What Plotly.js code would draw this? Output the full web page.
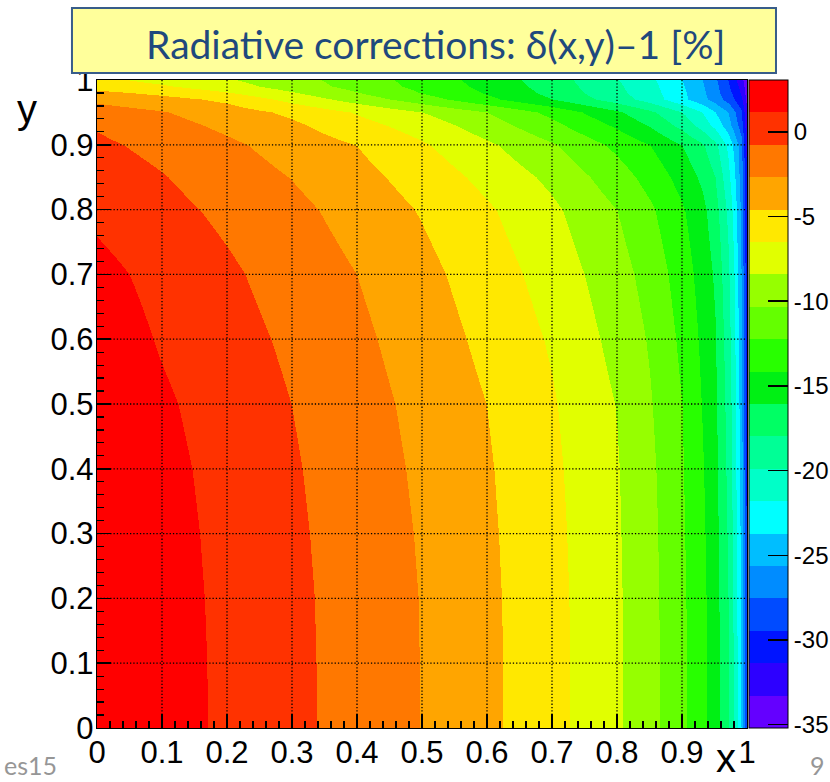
<!DOCTYPE html>
<html>
<head>
<meta charset="utf-8">
<script src="https://cdn.plot.ly/plotly-3.0.1.min.js"></script>
<style>html,body{margin:0;padding:0;background:#fff;}#chart{width:830px;height:782px;}</style>
</head>
<body>
<div id="chart"></div>
<script>
// grid of x and y sample positions
const xVals = [0, 0.1, 0.2, 0.3, 0.4, 0.5, 0.6, 0.7, 0.8, 0.85, 0.9, 0.93, 0.95, 0.97, 0.98, 0.99, 1.0];
const yVals = [0, 0.1, 0.2, 0.3, 0.4, 0.5, 0.6, 0.7, 0.8, 0.85, 0.9, 0.93, 0.95, 0.97, 0.98, 0.99, 1.0];

// delta(x,y)-1 in %, one row per y value (estimated from the colour bands)
const z_y000 = [3.06, 1.93, 0.81, -0.33, -1.51, -2.72, -4.18, -5.89, -8.14, -9.68, -11.84, -13.60, -15.16, -17.81, -20.17, -23.72, -30.0];
const z_y010 = [3.05, 1.92, 0.80, -0.33, -1.51, -2.73, -4.18, -5.89, -8.15, -9.69, -11.85, -13.62, -15.18, -17.83, -20.2, -23.8, -30.1];
const z_y020 = [2.98, 1.87, 0.76, -0.36, -1.54, -2.75, -4.21, -5.92, -8.17, -9.74, -11.90, -13.66, -15.25, -17.98, -20.4, -23.9, -30.2];
const z_y030 = [2.88, 1.79, 0.68, -0.45, -1.62, -2.84, -4.29, -6.00, -8.23, -9.80, -12.00, -13.79, -15.37, -18.2, -20.6, -24.2, -30.4];
const z_y040 = [2.74, 1.66, 0.55, -0.58, -1.75, -2.99, -4.41, -6.13, -8.30, -9.93, -12.10, -13.97, -15.51, -18.46, -20.85, -24.5, -30.6];
const z_y050 = [2.55, 1.42, 0.32, -0.78, -1.94, -3.20, -4.61, -6.33, -8.49, -10.19, -12.24, -14.23, -15.70, -18.70, -21.09, -24.8, -30.8];
const z_y060 = [2.25, 0.97, -0.05, -1.11, -2.27, -3.59, -5.06, -6.72, -9.01, -10.53, -12.66, -14.51, -15.93, -19.04, -21.33, -25.1, -31.0];
const z_y070 = [1.70, 0.58, -0.46, -1.57, -2.69, -4.05, -5.54, -7.30, -9.57, -11.05, -13.17, -14.92, -16.34, -19.51, -21.81, -25.6, -31.3];
const z_y080 = [0.75, -0.20, -1.17, -2.19, -3.38, -4.74, -6.25, -8.05, -10.33, -11.93, -13.94, -15.52, -17.20, -20.32, -22.53, -26.0, -31.6];
const z_y085 = [0.25, -0.67, -1.70, -2.74, -3.97, -5.39, -7.03, -8.87, -11.36, -12.94, -14.87, -16.45, -17.98, -21.23, -23.30, -26.5, -32.0];
const z_y090 = [-0.40, -1.29, -2.32, -3.44, -4.61, -6.27, -8.06, -10.12, -12.69, -14.16, -16.07, -17.71, -19.42, -22.19, -24.2, -26.7, -32.5];
const z_y093 = [-0.95, -2.00, -3.08, -4.24, -5.81, -7.37, -9.42, -11.73, -14.50, -16.28, -18.62, -20.66, -22.37, -24.81, -26.49, -28.5, -33.0];
const z_y095 = [-1.80, -2.56, -3.68, -4.99, -6.68, -8.42, -10.33, -12.79, -15.75, -17.60, -19.90, -21.81, -23.72, -25.64, -27.23, -29.1, -33.5];
const z_y097 = [-3.10, -3.93, -5.02, -7.14, -9.27, -11.39, -13.68, -16.07, -18.94, -20.75, -23.18, -25.0, -26.47, -28.33, -29.46, -31.0, -34.0];
const z_y098 = [-4.0, -5.0, -6.3, -8.2, -10.2, -12.3, -14.3, -16.6, -19.4, -21.0, -23.3, -25.2, -26.8, -28.8, -29.9, -31.6, -34.3];
const z_y099 = [-5.5, -6.3, -7.6, -9.3, -11.0, -12.8, -14.7, -16.9, -19.6, -21.2, -23.5, -25.4, -27.0, -29.2, -30.4, -32.0, -34.6];
const z_y100 = [-6.0, -7.0, -8.2, -9.6, -11.2, -13.0, -14.9, -17.1, -19.8, -21.4, -23.7, -25.6, -27.2, -29.5, -30.8, -32.5, -35.0];

// colour scale range and band colours (bottom band first)
const zBottom = -35.2;
const zTop = 3.06;
const bandColors = [
  'rgb(100,0,255)', 'rgb(45,0,255)', 'rgb(0,20,255)', 'rgb(0,75,255)', 'rgb(0,140,255)',
  'rgb(0,190,255)', 'rgb(0,255,255)', 'rgb(0,255,200)', 'rgb(0,255,150)', 'rgb(0,255,100)',
  'rgb(0,240,20)', 'rgb(40,255,0)', 'rgb(100,255,0)', 'rgb(150,255,0)', 'rgb(225,255,0)',
  'rgb(255,232,0)', 'rgb(255,165,0)', 'rgb(255,120,0)', 'rgb(255,50,0)', 'rgb(255,0,0)'
];

const xTickVals = [0, 0.1, 0.2, 0.3, 0.4, 0.5, 0.6, 0.7, 0.8, 0.9, 1];
const xTickText = ['0', '0.1', '0.2', '0.3', '0.4', '0.5', '0.6', '0.7', '0.8', '0.9', '1'];
const yTickVals = [0, 0.1, 0.2, 0.3, 0.4, 0.5, 0.6, 0.7, 0.8, 0.9, 1];
const yTickText = ['0', '0.1', '0.2', '0.3', '0.4', '0.5', '0.6', '0.7', '0.8', '0.9', '1'];
const cbTickVals = [0, -5, -10, -15, -20, -25, -30, -35];
const cbTickText = ['0', '-5', '-10', '-15', '-20', '-25', '-30', '-35'];
const gridVals = [0.1, 0.2, 0.3, 0.4, 0.5, 0.6, 0.7, 0.8, 0.9];

const titleText = 'Radiative corrections: δ(x,y)–1 [%]';

const zRows = [z_y000, z_y010, z_y020, z_y030, z_y040, z_y050, z_y060, z_y070, z_y080, z_y085,
               z_y090, z_y093, z_y095, z_y097, z_y098, z_y099, z_y100];

// stepped colour scale: one flat band per colour
const nBands = bandColors.length;
const colorscale = [];
bandColors.forEach((c, i) => {
  colorscale.push([i / nBands, c]);
  colorscale.push([(i + 1) / nBands, c]);
});

const axisFont = {family: 'Liberation Sans, Arial, sans-serif', size: 31, color: '#000'};

const trace = {
  type: 'heatmap',
  x: xVals,
  y: yVals,
  z: zRows,
  zmin: zBottom,
  zmax: zTop,
  zsmooth: 'best',
  colorscale: colorscale,
  hoverinfo: 'skip',
  colorbar: {
    x: 1.003, xanchor: 'left', xref: 'paper',
    y: 0.5, yanchor: 'middle', len: 1, lenmode: 'fraction',
    thickness: 39, thicknessmode: 'pixels',
    xpad: 0, ypad: 0,
    outlinewidth: 1, outlinecolor: '#000',
    tickmode: 'array', tickvals: cbTickVals, ticktext: cbTickText,
    ticks: 'inside', ticklen: 20, tickwidth: 1.5, tickcolor: '#000',
    tickfont: {family: 'Liberation Sans, Arial, sans-serif', size: 24, color: '#000'}
  }
};

const shapes = [];
gridVals.forEach(v => {
  shapes.push({type: 'line', xref: 'x', yref: 'y', x0: v, x1: v, y0: 0, y1: 1, layer: 'above',
               line: {color: '#000', width: 1.3, dash: '1.3px,2px'}});
  shapes.push({type: 'line', xref: 'x', yref: 'y', x0: 0, x1: 1, y0: v, y1: v, layer: 'above',
               line: {color: '#000', width: 1.3, dash: '1.3px,2px'}});
});
// title box
shapes.push({type: 'rect', xref: 'paper', yref: 'paper', x0: -0.0385, x1: 1.0446, y0: 1.0108, y1: 1.111,
             layer: 'above', fillcolor: 'rgb(255,255,155)', line: {color: 'rgb(56,93,138)', width: 2}});

const layout = {
  width: 830, height: 782,
  margin: {l: 97, r: 83, t: 80, b: 54, autoexpand: false},
  paper_bgcolor: '#fff', plot_bgcolor: '#fff',
  showlegend: false,
  xaxis: {
    range: [0, 1], showgrid: false, zeroline: false,
    showline: true, mirror: true, linecolor: '#000', linewidth: 1.2,
    tickmode: 'array', tickvals: xTickVals, ticktext: xTickText,
    ticks: 'inside', ticklen: 14, tickwidth: 1.5, tickcolor: '#000',
    minor: {dtick: 0.02, ticks: 'inside', ticklen: 7, tickwidth: 1.2, tickcolor: '#000', showgrid: false},
    tickfont: axisFont, layer: 'above traces', ticklabelstandoff: -3
  },
  yaxis: {
    range: [0, 1], showgrid: false, zeroline: false,
    showline: true, mirror: true, linecolor: '#000', linewidth: 1.2,
    tickmode: 'array', tickvals: yTickVals, ticktext: yTickText,
    ticks: 'inside', ticklen: 14, tickwidth: 1.5, tickcolor: '#000',
    minor: {dtick: 0.02, ticks: 'inside', ticklen: 7, tickwidth: 1.2, tickcolor: '#000', showgrid: false},
    tickfont: axisFont, layer: 'above traces', ticklabelstandoff: -4
  },
  shapes: shapes,
  annotations: [
    {text: titleText, xref: 'paper', yref: 'paper', x: 0.5215, y: 1.0556, xanchor: 'center', yanchor: 'middle',
     showarrow: false, font: {family: 'Lato, Open Sans, sans-serif', size: 39, color: 'rgb(31,73,125)'}},
    {text: 'y', xref: 'paper', yref: 'paper', x: -0.108, y: 0.955, xanchor: 'center', yanchor: 'middle',
     showarrow: false, font: {family: 'Liberation Sans, Arial, sans-serif', size: 40, color: '#000'}},
    {text: 'x', xref: 'paper', yref: 'paper', x: 0.968, y: -0.0833, xanchor: 'center', yanchor: 'bottom',
     showarrow: false, font: {family: 'Liberation Sans, Arial, sans-serif', size: 40, color: '#000'}},
    {text: 'es15', xref: 'paper', yref: 'paper', x: -0.146, y: -0.0833, xanchor: 'left', yanchor: 'bottom',
     showarrow: false, font: {family: 'Lato, Open Sans, sans-serif', size: 25, color: 'rgb(150,150,150)'}},
    {text: '9', xref: 'paper', yref: 'paper', x: 1.108, y: -0.0833, xanchor: 'center', yanchor: 'bottom',
     showarrow: false, font: {family: 'Lato, Open Sans, sans-serif', size: 25, color: 'rgb(150,150,150)'}}
  ]
};

Plotly.newPlot('chart', [trace], layout, {staticPlot: true, displayModeBar: false});
</script>
</body>
</html>
